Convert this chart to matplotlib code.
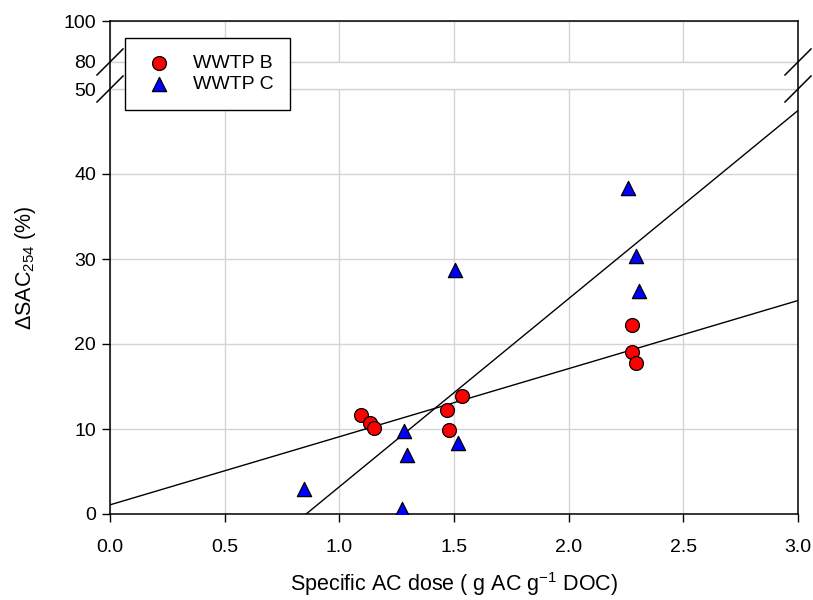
# coding: utf-8
###############################################################
####   import dependancies
###############################################################
import numpy as np
import matplotlib
matplotlib.use('Agg')
import matplotlib.pyplot as plt

plt.rcParams['font.family'] = ['Liberation Sans', 'DejaVu Sans']
plt.rcParams['mathtext.fontset'] = 'custom'
plt.rcParams['mathtext.rm'] = 'Liberation Sans'
plt.rcParams['mathtext.it'] = 'Liberation Sans:italic'

###############################################################
####    data
###############################################################
dose_b = [1.094, 1.134, 1.151, 1.470, 1.478, 1.535, 2.276, 2.276, 2.294]
sac_b  = [11.65, 10.7, 10.1, 12.2, 9.9, 13.9, 22.2, 19.1, 17.8]

dose_c = [0.846, 1.272, 1.282, 1.297, 1.504, 1.516, 2.260, 2.292, 2.308]
sac_c  = [2.9, 0.6, 9.8, 6.9, 28.7, 8.4, 38.4, 30.35, 26.2]

xticks = [0.0, 0.5, 1.0, 1.5, 2.0, 2.5, 3.0]
yticks = [0, 10, 20, 30, 40, 50, 80, 100]

# broken y axis: 0-50 normal, 50-80 squeezed into a gap, 80-100 compressed
brk_in  = [-100, 0, 50, 80, 100, 300]
brk_out = [-100, 0, 50, 53.18, 58.0, 106.2]

def fwd(y):
    return np.interp(y, brk_in, brk_out)

def inv(y):
    return np.interp(y, brk_out, brk_in)

###############################################################
####    regression lines
###############################################################
kb = np.polyfit(dose_b, sac_b, 1)
kc = np.polyfit(dose_c, sac_c, 1)
xb = np.array([0.0, 3.0])
xc = np.array([-kc[1] / kc[0], 3.0])

###############################################################
####    plot
###############################################################
fig = plt.figure(figsize=(8.13, 6.0), dpi=100)
ax = fig.add_axes([110/813, 1 - 514/600, 688/813, 493/600])
ax.set_yscale('function', functions=(fwd, inv))

ax.plot(xb, np.polyval(kb, xb), color='black', lw=1.0, zorder=2)
ax.plot(xc, np.polyval(kc, xc), color='black', lw=1.0, zorder=2)

ax.scatter(dose_b, sac_b, s=100, marker='o', facecolor='#ff0000',
           edgecolor='black', linewidths=0.9, zorder=3, label='WWTP B')
ax.scatter(dose_c, sac_c, s=105, marker='^', facecolor='#0000ff',
           edgecolor='black', linewidths=0.9, zorder=3, label='WWTP C')

ax.set_xlim(0, 3)
ax.set_ylim(0, 100)
ax.set_xticks(xticks)
ax.set_xticklabels(['%.1f' % t for t in xticks])
ax.set_yticks(yticks)
ax.set_yticklabels([str(t) for t in yticks])

ax.grid(True, color='#d4d4d4', lw=1.0)
ax.set_axisbelow(True)
# hide grid inside the gap
ax.axhspan(50, 80, facecolor='white', edgecolor='none', zorder=0.8)
ax.axhline(50, color='#d4d4d4', lw=1.0, zorder=0.9)
ax.axhline(80, color='#d4d4d4', lw=1.0, zorder=0.9)

ax.tick_params(direction='out', length=6, width=1.0, labelsize=14,
               top=False, right=False)
ax.tick_params(axis='y', pad=4)
ax.tick_params(axis='x', pad=12)
for sp in ax.spines.values():
    sp.set_linewidth(1.1)

for i, t in enumerate(yticks):
    if t in (50, 80):
        ax.yaxis.get_major_ticks()[i].tick1line.set_visible(False)

# break marks on both spines
dx = 13 / 688.
dy = 13 / 493.
for yv in (50, 80):
    yf = ax.transAxes.inverted().transform(ax.transData.transform((0, yv)))[1]
    for xs in (0.0, 1.0):
        ax.plot([xs - dx, xs + dx], [yf - dy, yf + dy], color='black',
                lw=1.1, transform=ax.transAxes, clip_on=False, zorder=5)

ax.set_xlabel('Specific AC dose ( g AC g$^{\\mathregular{-1}}$ DOC)',
              fontsize=15.5, labelpad=10)
ax.set_ylabel('\u0394SAC$_{\\mathregular{254}}$ (%)', fontsize=15.5, labelpad=18)

leg = ax.legend(loc='upper left', bbox_to_anchor=(15/688., 476/493.),
                borderaxespad=0, fontsize=14, frameon=True, fancybox=False,
                edgecolor='black', framealpha=1, handlelength=1.8,
                handletextpad=0.85, borderpad=0.85, labelspacing=0.18,
                scatterpoints=1)
leg.get_frame().set_linewidth(1.0)

plt.savefig('out.png', dpi=100)
